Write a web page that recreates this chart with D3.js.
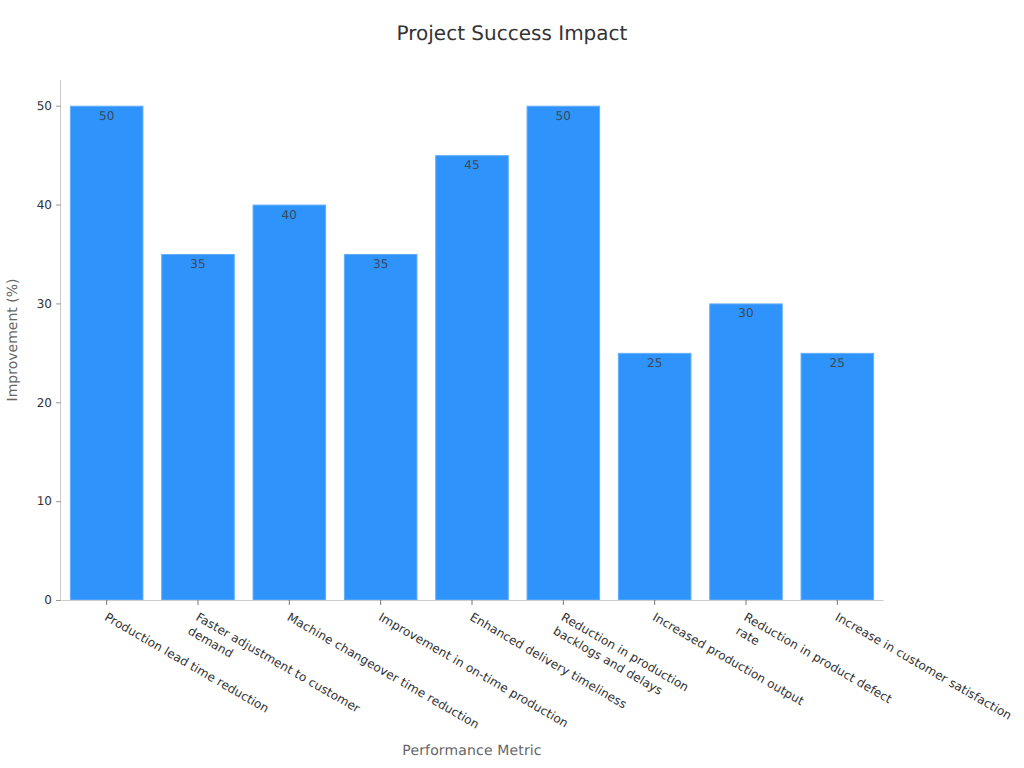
<!DOCTYPE html>
<html>
<head>
<meta charset="utf-8">
<script src="https://cdn.jsdelivr.net/npm/d3@7"></script>
<style>
body { margin: 0; background: #fff; }
text { font-family: "DejaVu Sans", sans-serif; text-rendering: geometricPrecision; }
</style>
</head>
<body>
<svg id="chart" width="1024" height="768"></svg>
<script>
// values
const categories = [
    "Production lead time reduction",
    "Faster adjustment to customer demand",
    "Machine changeover time reduction",
    "Improvement in on-time production",
    "Enhanced delivery timeliness",
    "Reduction in production backlogs and delays",
    "Increased production output",
    "Reduction in product defect rate",
    "Increase in customer satisfaction"
];
const improvement = [50, 35, 40, 35, 45, 50, 25, 30, 25];
const yTicks = [0, 10, 20, 30, 40, 50];

// wrapped labels, same breaks as the picture
const labelLines = [
    ["Production lead time reduction"],
    ["Faster adjustment to customer", "demand"],
    ["Machine changeover time reduction"],
    ["Improvement in on-time production"],
    ["Enhanced delivery timeliness"],
    ["Reduction in production", "backlogs and delays"],
    ["Increased production output"],
    ["Reduction in product defect", "rate"],
    ["Increase in customer satisfaction"]
];

const margin = { top: 81, right: 141, bottom: 168, left: 61 };
const width = 1024 - margin.left - margin.right;
const height = 768 - margin.top - margin.bottom;

const svg = d3.select("#chart");
const g = svg.append("g").attr("transform", "translate(" + margin.left + "," + margin.top + ")");

const x = d3.scaleBand().domain(categories).range([0, width]).paddingInner(0.2).paddingOuter(0.1);
const y = d3.scaleLinear().domain([0, 52.5]).range([height, 0]);

// bars
g.selectAll(".bar")
    .data(categories)
    .enter().append("rect")
    .attr("class", "bar")
    .attr("x", d => x(d) + 0.25)
    .attr("y", (d, i) => y(improvement[i]) + 0.5)
    .attr("width", x.bandwidth() - 0.5)
    .attr("height", (d, i) => height - y(improvement[i]) - 0.5)
    .style("fill", "#2e93fa")
    .style("stroke", "#63aefb")
    .style("stroke-width", 1);

// value labels inside the bars
g.selectAll(".val")
    .data(categories)
    .enter().append("text")
    .attr("class", "val")
    .attr("x", d => x(d) + x.bandwidth() / 2)
    .attr("y", (d, i) => y(improvement[i]) + 14)
    .attr("text-anchor", "middle")
    .style("font-size", "12px")
    .style("letter-spacing", "0.1px")
    .style("fill", "#3b4a5c")
    .text((d, i) => improvement[i]);

// y axis
const yAxis = g.append("g").call(d3.axisLeft(y).tickValues(yTicks).tickSize(5).tickPadding(4));
yAxis.select(".domain").style("stroke", "#ccc").attr("d", "M-0.5," + height + "V-1");
yAxis.selectAll(".tick line").style("stroke", "#999");
yAxis.selectAll(".tick text").style("font-size", "12px").style("fill", "#333");

// x axis
const xAxis = g.append("g")
    .attr("transform", "translate(0," + height + ")")
    .call(d3.axisBottom(x).tickSize(5).tickSizeOuter(0).tickFormat(""));
xAxis.select(".domain").style("stroke", "#ccc");
xAxis.selectAll(".tick line").style("stroke", "#777");

xAxis.selectAll(".tick").each(function (d, i) {
    const label = d3.select(this).append("text")
        .attr("transform", "translate(-1,16) rotate(30)")
        .attr("text-anchor", "start")
        .style("font-size", "12px")
        .style("letter-spacing", "0.08px")
        .style("fill", "#333");
    labelLines[i].forEach((line, k) => {
        label.append("tspan").attr("x", 0).attr("y", k * 16 + 4).text(line);
    });
});

// titles
svg.append("text")
    .attr("x", 512).attr("y", 40)
    .attr("text-anchor", "middle")
    .style("font-size", "20px")
    .style("fill", "#333")
    .text("Project Success Impact");

svg.append("text")
    .attr("x", 472).attr("y", 755)
    .attr("text-anchor", "middle")
    .style("font-size", "14px")
    .style("letter-spacing", "0.15px")
    .style("fill", "#666")
    .text("Performance Metric");

svg.append("text")
    .attr("transform", "translate(17,340) rotate(-90)")
    .attr("text-anchor", "middle")
    .style("font-size", "14px")
    .style("fill", "#666")
    .text("Improvement (%)");
</script>
</body>
</html>
